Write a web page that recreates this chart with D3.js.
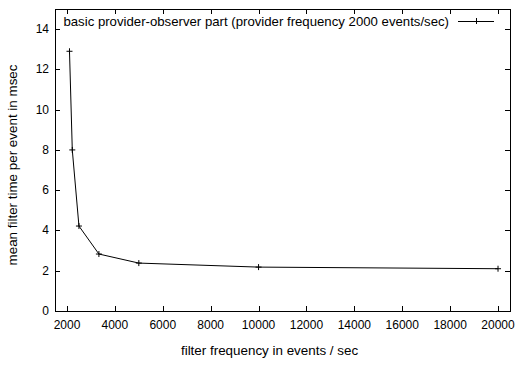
<!DOCTYPE html>
<meta charset="utf-8">
<script src="https://d3js.org/d3.v7.min.js"></script>
<style>
  body { margin: 0; background: #fff; }
  text { font-family: "Liberation Sans", Arial, sans-serif; font-size: 12px; fill: #000; }
  .title { font-size: 13.4px; }
  .legend { font-size: 13.2px; }
</style>
<body>
<div id="vis"></div>
<script>
// data
var filterFreq = [2105, 2222, 2500, 3333, 5000, 10000, 20000];
var meanTime = [12.9, 8.0, 4.22, 2.83, 2.38, 2.18, 2.1];
var xTicks = [2000, 4000, 6000, 8000, 10000, 12000, 14000, 16000, 18000, 20000];
var yTicks = [0, 2, 4, 6, 8, 10, 12, 14];
var seriesName = "basic provider-observer part (provider frequency 2000 events/sec)";

var W = 517, H = 367;
var margin = {top: 9, right: 7, bottom: 56, left: 55},
    width = W - margin.left - margin.right,
    height = H - margin.top - margin.bottom;

var svg = d3.select("#vis").append("svg")
    .attr("width", W).attr("height", H)
  .append("g")
    .attr("transform", "translate(" + margin.left + "," + margin.top + ")");

var x = d3.scaleLinear().domain([1500, 20500]).range([0, width]);
var y = d3.scaleLinear().domain([0, 15]).range([height, 0]);

var tl = 5;
// ticks on all four sides, pointing inward (gnuplot style)
var tickG = svg.append("g").attr("stroke", "#000").attr("stroke-width", 1);
xTicks.forEach(function(t) {
  var px = Math.round(x(t)) + 0.5;
  tickG.append("line").attr("x1", px).attr("x2", px).attr("y1", height).attr("y2", height - tl);
  tickG.append("line").attr("x1", px).attr("x2", px).attr("y1", 0).attr("y2", tl);
});
yTicks.forEach(function(t) {
  var py = Math.round(y(t)) + 0.5;
  tickG.append("line").attr("x1", 0).attr("x2", tl).attr("y1", py).attr("y2", py);
  tickG.append("line").attr("x1", width).attr("x2", width - tl).attr("y1", py).attr("y2", py);
});

svg.selectAll(".xl").data(xTicks).enter().append("text")
  .attr("x", function(d) { return x(d); })
  .attr("y", height + 18)
  .attr("text-anchor", "middle")
  .text(function(d) { return d; });

svg.selectAll(".yl").data(yTicks).enter().append("text")
  .attr("x", -6)
  .attr("y", function(d) { return y(d) + 4; })
  .attr("text-anchor", "end")
  .text(function(d) { return d; });

// frame
svg.append("rect")
  .attr("x", 0.5).attr("y", 0.5)
  .attr("width", width).attr("height", height)
  .attr("fill", "none").attr("stroke", "#000").attr("stroke-width", 1);

// axis titles
svg.append("text").attr("class", "title")
  .attr("x", x(10500) - 1).attr("y", height + 44)
  .attr("text-anchor", "middle")
  .text("filter frequency in events / sec");
svg.append("text").attr("class", "title")
  .attr("transform", "translate(" + (-38) + "," + (height / 2 + 5) + ") rotate(-90)")
  .attr("text-anchor", "middle")
  .text("mean filter time per event in msec");

// series
var pts = filterFreq.map(function(f, i) { return [f, meanTime[i]]; });
svg.append("path")
  .datum(pts)
  .attr("fill", "none").attr("stroke", "#000").attr("stroke-width", 1)
  .attr("d", d3.line().x(function(d) { return x(d[0]); }).y(function(d) { return y(d[1]); }));

var ps = 3;
var marks = svg.append("g").attr("stroke", "#000").attr("stroke-width", 1);
pts.forEach(function(d) {
  var cx = x(d[0]), cy = y(d[1]);
  marks.append("line").attr("x1", cx - ps).attr("x2", cx + ps).attr("y1", cy).attr("y2", cy);
  marks.append("line").attr("x1", cx).attr("x2", cx).attr("y1", cy - ps).attr("y2", cy + ps);
});

// legend
var lgY = 12;
svg.append("text").attr("class", "legend")
  .attr("x", 394).attr("y", lgY + 5)
  .attr("text-anchor", "end")
  .text(seriesName);
svg.append("line")
  .attr("x1", 403).attr("x2", 439).attr("y1", lgY + 0.5).attr("y2", lgY + 0.5)
  .attr("stroke", "#000");
svg.append("line")
  .attr("x1", 421.5).attr("x2", 421.5).attr("y1", lgY - ps).attr("y2", lgY + ps)
  .attr("stroke", "#000");
</script>
</body>
